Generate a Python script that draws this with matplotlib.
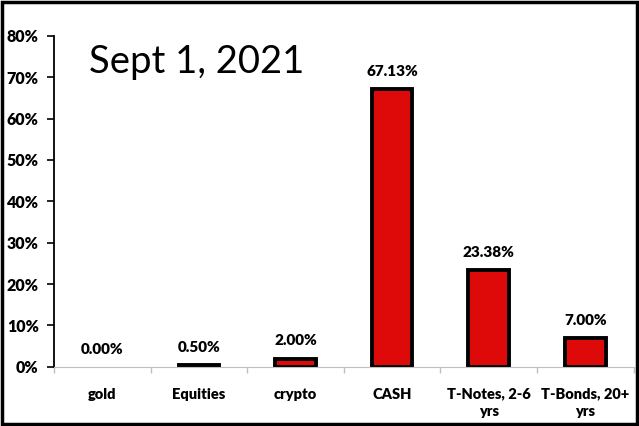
import matplotlib
matplotlib.use("Agg")
import matplotlib.pyplot as plt
from matplotlib.patches import Rectangle
from matplotlib.ticker import PercentFormatter

# data
categories = ["gold", "Equities", "crypto", "CASH", "T-Notes, 2-6\nyrs", "T-Bonds, 20+\nyrs"]
shares = [0.00, 0.50, 2.00, 67.13, 23.38, 7.00]
value_labels = ["0.00%", "0.50%", "2.00%", "67.13%", "23.38%", "7.00%"]
chart_title = "Sept 1, 2021"

plt.rcParams['font.family'] = ['Lato', 'DejaVu Sans']
W = "heavy"

fig = plt.figure(figsize=(6.39, 4.26), dpi=100)
ax = fig.add_axes([0.0845, 0.139, 0.907, 0.777])

x = range(len(categories))
bars = ax.bar(x, shares, width=0.42, color="#de0a0a", edgecolor="black", linewidth=2.8)

for b, lab in zip(bars, value_labels):
    if b.get_height() == 0:
        b.set_visible(False)
    ax.annotate(lab, (b.get_x() + b.get_width() / 2, b.get_height()),
                xytext=(0, 8), textcoords="offset points",
                ha="center", va="bottom", fontsize=11, fontweight=W)

ax.set_xlim(-0.5, len(categories) - 0.5)
ax.set_ylim(0, 80)
ax.set_yticks(range(0, 81, 10))
ax.yaxis.set_major_formatter(PercentFormatter(decimals=0))

ax.set_xticks(list(x))
ax.set_xticklabels(categories, fontsize=10.5, fontweight=W, linespacing=1.4)
ax.set_xticks([i - 0.5 for i in range(len(categories) + 1)], minor=True)
ax.tick_params(axis="x", which="major", length=0, pad=15)
ax.tick_params(axis="x", which="minor", length=4, color="#bfbfbf", width=1)
ax.tick_params(axis="y", length=5, width=1.2, direction="out", labelsize=11.5, pad=6)
for t in ax.get_yticklabels():
    t.set_fontweight(W)

ax.spines["top"].set_visible(False)
ax.spines["right"].set_visible(False)
ax.spines["bottom"].set_color("#bfbfbf")
ax.spines["left"].set_linewidth(1.3)

ax.text(0.06, 0.92, chart_title, transform=ax.transAxes, fontsize=27.5,
        ha="left", va="center")

fig.patches.append(Rectangle((0.003, 0.004), 0.994, 0.992, transform=fig.transFigure,
                             fill=False, edgecolor="black", linewidth=2.5))

fig.savefig("out.png", dpi=100)
